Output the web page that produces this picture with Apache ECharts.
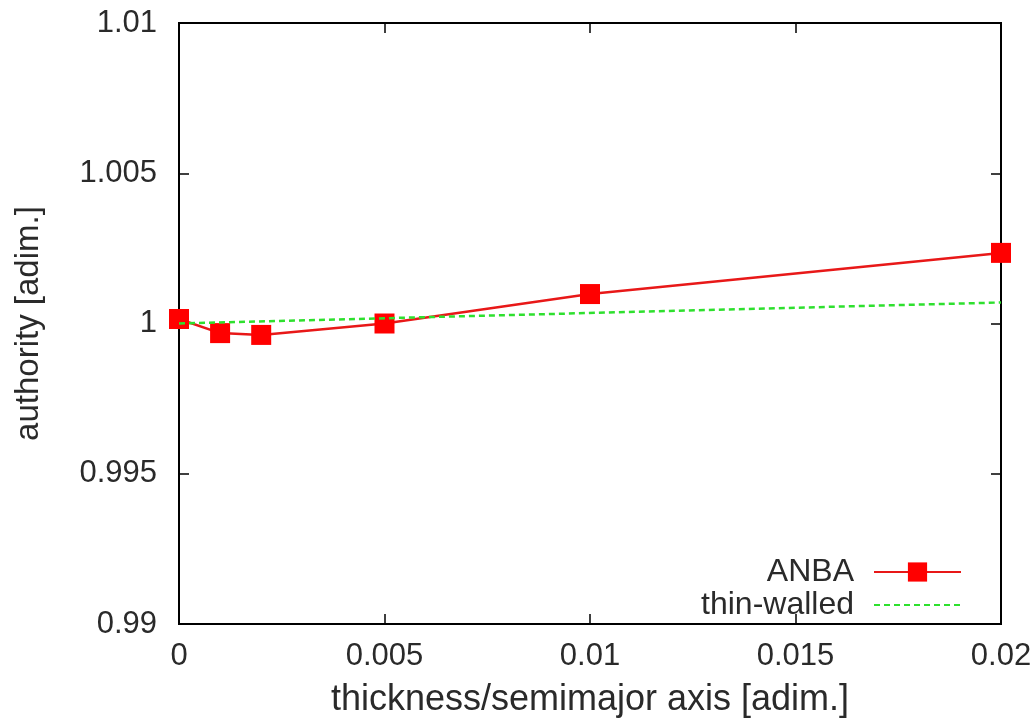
<!DOCTYPE html>
<html>
<head>
<meta charset="utf-8">
<script src="https://cdn.jsdelivr.net/npm/echarts@6/dist/echarts.min.js"></script>
<style>html,body{margin:0;padding:0;background:#fff}#c{width:1036px;height:725px}</style>
</head>
<body>
<div id="c"></div>
<script>
const xTicks = [0, 0.005, 0.01, 0.015, 0.02];
const yTicks = [0.99, 0.995, 1, 1.005, 1.01];
const anbaX = [0, 0.001, 0.002, 0.005, 0.01, 0.02];
const anbaY = [1.00015, 0.99968, 0.99962, 1.0000, 1.00098, 1.00235];
const thinX = [0, 0.02];
const thinY = [1.0000, 1.0007];

const chart = echarts.init(document.getElementById('c'), null, {renderer: 'canvas'});
const font = 'Liberation Sans, Arial, sans-serif';
const fmt = v => String(+v.toFixed(4));
const axisCommon = () => ({
  axisLine: {show: true, onZero: false, lineStyle: {color: '#000', width: 2}},
  axisTick: {show: true, inside: true, length: 10, lineStyle: {color: '#000', width: 1.5}},
  splitLine: {show: false}
});
chart.setOption({
  animation: false,
  backgroundColor: '#fff',
  grid: {left: 179, top: 23, right: 35, bottom: 101, show: true, borderColor: '#000', borderWidth: 2,
         backgroundColor: 'transparent', containLabel: false, outerBoundsMode: 'none'},
  xAxis: [
    Object.assign({
      type: 'value', min: xTicks[0], max: xTicks[xTicks.length - 1], interval: 0.005, position: 'bottom',
      name: 'thickness/semimajor axis [adim.]', nameLocation: 'middle', nameGap: 58,
      nameTextStyle: {fontFamily: font, fontSize: 36, color: '#2a2a2a'},
      axisLabel: {fontFamily: font, fontSize: 31, color: '#2a2a2a', margin: 17, formatter: fmt}
    }, axisCommon()),
    Object.assign({
      type: 'value', min: xTicks[0], max: xTicks[xTicks.length - 1], interval: 0.005, position: 'top',
      axisLabel: {show: false}
    }, axisCommon())
  ],
  yAxis: [
    Object.assign({
      type: 'value', min: yTicks[0], max: yTicks[yTicks.length - 1], interval: 0.005, position: 'left',
      name: 'authority [adim.]', nameLocation: 'middle', nameGap: 134, nameRotate: 90,
      nameTextStyle: {fontFamily: font, fontSize: 33, color: '#2a2a2a'},
      axisLabel: {fontFamily: font, fontSize: 31, color: '#2a2a2a', margin: 22, formatter: fmt}
    }, axisCommon()),
    Object.assign({
      type: 'value', min: yTicks[0], max: yTicks[yTicks.length - 1], interval: 0.005, position: 'right',
      axisLabel: {show: false}
    }, axisCommon())
  ],
  legend: [
    {data: ['ANBA'], right: 69, top: 551, align: 'right', itemWidth: 87, itemHeight: 24, itemGap: 0,
     textStyle: {fontFamily: font, fontSize: 32, color: '#2a2a2a', padding: [0, 15, 0, 0]}},
    {data: ['thin-walled'], right: 69, top: 584, align: 'right', itemWidth: 87, itemHeight: 24, itemGap: 0,
     itemStyle: {opacity: 0},
     textStyle: {fontFamily: font, fontSize: 32, color: '#2a2a2a', padding: [0, 15, 0, 0]}}
  ],
  series: [
    {
      name: 'thin-walled', type: 'line', xAxisIndex: 0, yAxisIndex: 0,
      data: thinX.map((x, i) => [x, thinY[i]]),
      symbol: 'none', z: 3,
      lineStyle: {color: '#2ee02e', width: 2.5, type: [6, 4]},
      itemStyle: {color: '#2ee02e'}
    },
    {
      name: 'ANBA', type: 'line', xAxisIndex: 0, yAxisIndex: 0,
      data: anbaX.map((x, i) => [x, anbaY[i]]),
      symbol: 'rect', symbolSize: 20, z: 2,
      lineStyle: {color: '#e81818', width: 2.5},
      itemStyle: {color: '#ff0000'}
    }
  ]
});
</script>
</body>
</html>
